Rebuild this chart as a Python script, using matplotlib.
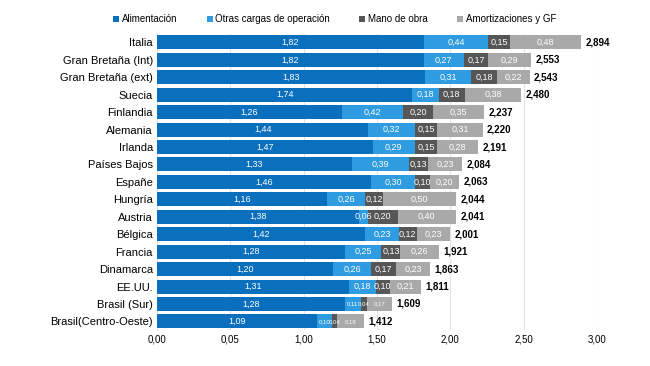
import matplotlib.pyplot as plt
import numpy as np

plt.rcParams["font.family"] = ["Liberation Sans", "DejaVu Sans"]

paises = ["Italia", "Gran Bretaña (Int)", "Gran Bretaña (ext)", "Suecia", "Finlandia",
          "Alemania", "Irlanda", "Países Bajos", "Españe", "Hungría", "Austria",
          "Bélgica", "Francia", "Dinamarca", "EE.UU.", "Brasil (Sur)", "Brasil(Centro-Oeste)"]

alimentacion = [1.82, 1.82, 1.83, 1.74, 1.26, 1.44, 1.47, 1.33, 1.46, 1.16, 1.38,
                1.42, 1.28, 1.20, 1.31, 1.28, 1.09]
otras = [0.44, 0.27, 0.31, 0.18, 0.42, 0.32, 0.29, 0.39, 0.30, 0.26, 0.06,
         0.23, 0.25, 0.26, 0.18, 0.11, 0.10]
mano_obra = [0.15, 0.17, 0.18, 0.18, 0.20, 0.15, 0.15, 0.13, 0.10, 0.12, 0.20,
             0.12, 0.13, 0.17, 0.10, 0.04, 0.04]
amortiz = [0.48, 0.29, 0.22, 0.38, 0.35, 0.31, 0.28, 0.23, 0.20, 0.50, 0.40,
           0.23, 0.26, 0.23, 0.21, 0.17, 0.18]
totales = ["2,894", "2,553", "2,543", "2,480", "2,237", "2,220", "2,191", "2,084",
           "2,063", "2,044", "2,041", "2,001", "1,921", "1,863", "1,811", "1,609", "1,412"]

series = [("Alimentación", alimentacion, "#0a6fbd"),
          ("Otras cargas de operación", otras, "#2f9be0"),
          ("Mano de obra", mano_obra, "#565656"),
          ("Amortizaciones y GF", amortiz, "#a9a9a9")]

xticks = [0, 0.5, 1.0, 1.5, 2.0, 2.5, 3.0]
xtick_labels = ["0,00", "0,05", "1,00", "1,50", "2,00", "2,50", "3,00"]

fig = plt.figure(figsize=(6.5, 3.66), dpi=100)
ax = fig.add_axes([0.2415, 0.098, 0.677, 0.81])

y = np.arange(len(paises))
left = np.zeros(len(paises))
for nombre, vals, color in series:
    vals = np.array(vals)
    ax.barh(y, vals, left=left, height=0.8, color=color, label=nombre, zorder=2)
    for i, v in enumerate(vals):
        fs = 4.3 if (i >= 15 and nombre != "Alimentación") else 6.5
        ax.text(left[i] + v / 2, y[i], f"{v:.2f}".replace(".", ","),
                ha="center", va="center", color="white", fontsize=fs, zorder=3)
    left = left + vals

for i, t in enumerate(totales):
    ax.text(left[i] + 0.03, y[i], t, ha="left", va="center", fontsize=7,
            fontweight="bold", color="black", zorder=3)

ax.set_ylim(len(paises) - 0.5, -0.5)
ax.set_xlim(0, 3.0)
ax.set_yticks(y)
ax.set_yticklabels(paises, fontsize=8)
ax.set_xticks(xticks)
ax.set_xticklabels(xtick_labels, fontsize=7)
ax.tick_params(length=0, pad=3)
ax.grid(axis="x", color="#e3e3e3", lw=0.8, zorder=0)
for s in ax.spines.values():
    s.set_visible(False)

fig.legend(loc="upper center", bbox_to_anchor=(0.515, 0.985), ncol=4, frameon=False,
           fontsize=7, handlelength=0.6, handleheight=0.6, handletextpad=0.3,
           columnspacing=3.0)

fig.savefig("out.png", dpi=100)
